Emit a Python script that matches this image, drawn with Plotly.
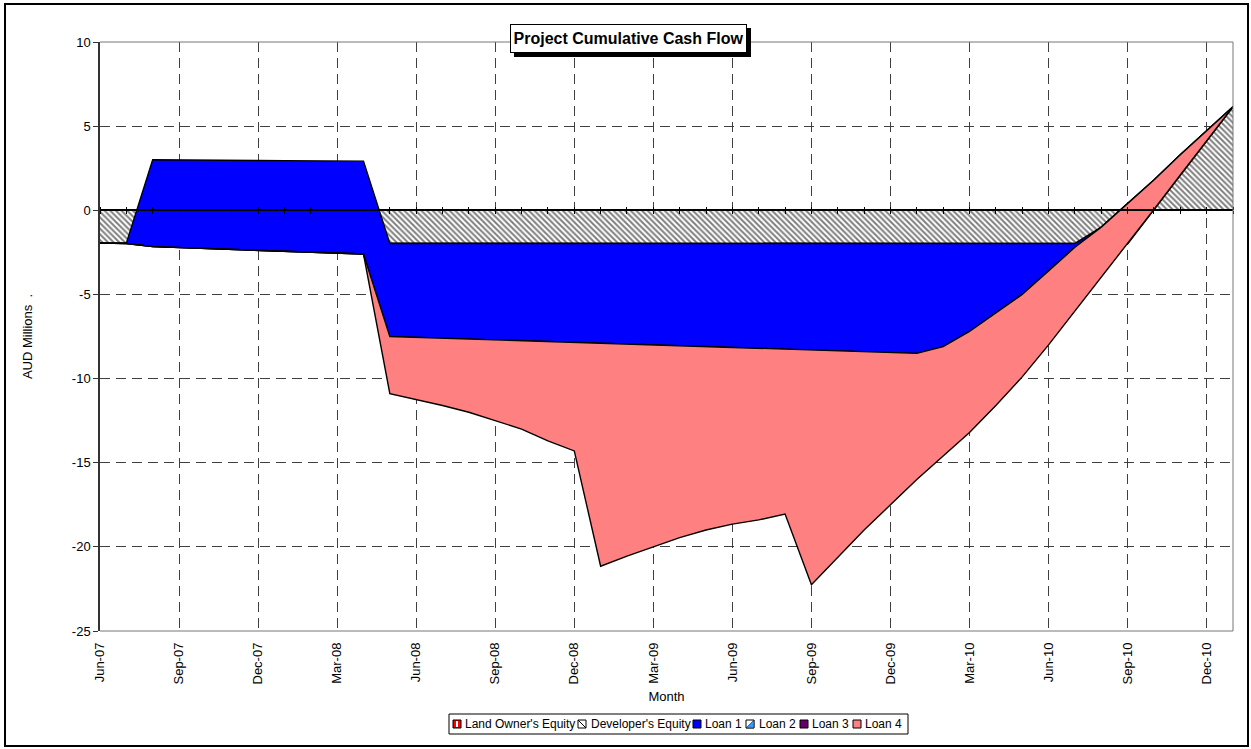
import plotly.graph_objects as go

# ---------------- data ----------------
months = ["Jun-07", "Jul-07", "Aug-07", "Sep-07", "Oct-07", "Nov-07", "Dec-07",
          "Jan-08", "Feb-08", "Mar-08", "Apr-08", "May-08", "Jun-08", "Jul-08", "Aug-08", "Sep-08",
          "Oct-08", "Nov-08", "Dec-08",
          "Jan-09", "Feb-09", "Mar-09", "Apr-09", "May-09", "Jun-09", "Jul-09", "Aug-09", "Sep-09",
          "Oct-09", "Nov-09", "Dec-09",
          "Jan-10", "Feb-10", "Mar-10", "Apr-10", "May-10", "Jun-10", "Jul-10", "Aug-10", "Sep-10",
          "Oct-10", "Nov-10", "Dec-10",
          "Jan-11"]

tick_labels = ["Jun-07", "Sep-07", "Dec-07", "Mar-08", "Jun-08", "Sep-08", "Dec-08", "Mar-09",
               "Jun-09", "Sep-09", "Dec-09", "Mar-10", "Jun-10", "Sep-10", "Dec-10"]

y_ticks = [-25, -20, -15, -10, -5, 0, 5, 10]
y_tick_text = ["-25", "-20", "-15", "-10", "-5", "0", "5", "10"]

# Developer's Equity boundary (hatched area, measured from 0)
developer_equity = [-1.95, -1.95, -1.97, -1.97, -1.97, -1.97, -1.97, -1.97, -1.97, -1.97,
                    -1.97, -1.97, -1.97, -1.97, -1.97, -1.97, -1.97, -1.97, -1.97, -1.97,
                    -1.97, -1.97, -1.97, -1.97, -1.97, -1.97, -1.97, -1.97, -1.97, -1.97,
                    -1.97, -1.97, -1.97, -1.97, -1.97, -1.97, -1.97, -1.97, -1.97, -2.00,
                    0.05, 2.10, 4.10, 6.15]

# Loan 1 (blue) upper boundary
loan1_top = [-1.95, -1.95, 3.00, 3.00, 2.98, 2.97, 2.96, 2.95, 2.94, 2.93,
             2.92, -1.97, -1.97, -1.97, -1.97, -1.97, -1.97, -1.97, -1.97, -1.97,
             -1.97, -1.97, -1.97, -1.97, -1.97, -1.97, -1.97, -1.97, -1.97, -1.97,
             -1.97, -1.97, -1.97, -1.97, -1.97, -1.97, -1.97, -1.97, -1.00, 0.40,
             1.80, 3.30, 4.70, 6.15]

# Loan 1 lower boundary = Loan 4 (salmon) upper boundary
loan1_bottom = [-1.95, -1.97, -2.16, -2.21, -2.26, -2.31, -2.36, -2.41, -2.46, -2.52,
                -2.60, -7.50, -7.55, -7.60, -7.65, -7.70, -7.75, -7.80, -7.85, -7.90,
                -7.95, -8.00, -8.05, -8.10, -8.15, -8.20, -8.25, -8.30, -8.35, -8.40,
                -8.45, -8.50, -8.10, -7.20, -6.10, -5.00, -3.60, -2.20, -1.00, 0.40,
                1.80, 3.30, 4.70, 6.15]

# Cumulative total = Loan 4 lower boundary
cumulative_total = [-1.95, -1.97, -2.16, -2.21, -2.26, -2.31, -2.36, -2.41, -2.46, -2.52,
                    -2.60, -10.90, -11.25, -11.60, -12.00, -12.50, -13.00, -13.70, -14.30, -21.15,
                    -20.55, -20.00, -19.45, -19.00, -18.65, -18.40, -18.05, -22.25, -20.60, -19.00,
                    -17.50, -16.00, -14.60, -13.20, -11.60, -9.90, -8.00, -6.00, -4.00, -2.00,
                    0.05, 2.10, 4.10, 6.15]

legend_labels = ["Land Owner's Equity", "Developer's Equity", "Loan 1", "Loan 2", "Loan 3", "Loan 4"]

# ---------------- styling ----------------
FONT = "Liberation Sans, Arial, sans-serif"
EDGE = dict(color="black", width=1.4)
BLUE = "#0000FF"
SALMON = "#FF8080"

W, H = 1251, 749
PL, PR, PT, PB = 100, 1233, 42, 631


def fx(px):
    return (px - PL) / (PR - PL)


def fy(py):
    return (PB - py) / (PB - PT)


fig = go.Figure()

# Developer's Equity (hatched)
fig.add_trace(go.Scatter(
    x=months, y=developer_equity, mode="lines", line=EDGE,
    fill="tozeroy", fillcolor="white",
    fillpattern=dict(shape="\\", fgcolor="black", bgcolor="white", size=4, solidity=0.5),
    name="Developer's Equity", hoverinfo="skip"))

# Loan 1 (blue)
fig.add_trace(go.Scatter(x=months, y=loan1_bottom, mode="lines", line=EDGE,
                         name="Loan 1 base", hoverinfo="skip"))
fig.add_trace(go.Scatter(x=months, y=loan1_top, mode="lines", line=EDGE,
                         fill="tonexty", fillcolor=BLUE, name="Loan 1", hoverinfo="skip"))

# Loan 4 (salmon)
fig.add_trace(go.Scatter(x=months, y=loan1_bottom, mode="lines", line=EDGE,
                         name="Loan 4 top", hoverinfo="skip"))
fig.add_trace(go.Scatter(x=months, y=cumulative_total, mode="lines", line=EDGE,
                         fill="tonexty", fillcolor=SALMON, name="Loan 4", hoverinfo="skip"))

# helper traces so the crossing category axis (at 0) is drawn above the areas
for ax in ("x2", "x3"):
    fig.add_trace(go.Scatter(x=months, y=cumulative_total, xaxis=ax, mode="lines",
                             line=dict(width=0, color="rgba(0,0,0,0)"),
                             hoverinfo="skip", showlegend=False))

zero_pos = (0 - y_ticks[0]) / (y_ticks[-1] - y_ticks[0])
GRID_DASH = "10px,6px"

cross_axis = dict(overlaying="x", anchor="free", position=zero_pos, type="category",
                  categoryorder="array", categoryarray=months, range=[0, len(months) - 1],
                  tickmode="array", tickvals=months, showticklabels=False,
                  ticks="outside", ticklen=3, tickcolor="black", tickwidth=1,
                  showgrid=False, zeroline=False)

fig.update_layout(
    width=W, height=H,
    margin=dict(l=PL, r=W - PR, t=PT, b=H - PB),
    paper_bgcolor="white", plot_bgcolor="white",
    showlegend=False,
    font=dict(family=FONT, size=13, color="black"),
    xaxis=dict(type="category", categoryorder="array", categoryarray=months,
               range=[0, len(months) - 1], tickmode="array", tickvals=tick_labels,
               ticktext=tick_labels, tickangle=-90, ticks="", ticklabelstandoff=8,
               showgrid=True, gridcolor="#404040", gridwidth=1, griddash=GRID_DASH,
               showline=False, zeroline=False,
               tickfont=dict(size=13),
               title=dict(text="Month", standoff=8, font=dict(size=13))),
    yaxis=dict(range=[y_ticks[0], y_ticks[-1]], tickmode="array", tickvals=y_ticks,
               ticktext=y_tick_text,
               ticks="outside", ticklen=5, tickcolor="#333333", tickwidth=1,
               showline=True, linecolor="#333333", linewidth=1.5,
               showgrid=True, gridcolor="#404040", gridwidth=1, griddash=GRID_DASH,
               zeroline=False, tickfont=dict(size=13),
               title=dict(text="AUD Millions\u00a0\u00a0.", standoff=36, font=dict(size=13))),
    xaxis2=dict(cross_axis, side="bottom", showline=True, linecolor="black", linewidth=1.5),
    xaxis3=dict(cross_axis, side="top", showline=False),
)

shapes = []
# plot frame (top, right, bottom)
shapes.append(dict(type="path", xref="paper", yref="paper",
                   path="M 0,1 L 1,1 L 1,0 L 0,0", line=dict(color="#777777", width=1),
                   layer="above"))
# outer chart border
shapes.append(dict(type="rect", xref="paper", yref="paper",
                   x0=fx(5), x1=fx(1248), y0=fy(746), y1=fy(4),
                   line=dict(color="black", width=2), fillcolor="rgba(0,0,0,0)", layer="above"))
# title shadow
shapes.append(dict(type="rect", xref="paper", yref="paper",
                   x0=fx(514), x1=fx(751), y0=fy(57), y1=fy(28),
                   line=dict(width=0), fillcolor="black", layer="above"))

# legend box
shapes.append(dict(type="rect", xref="paper", yref="paper",
                   x0=fx(449), x1=fx(908), y0=fy(734), y1=fy(714),
                   line=dict(color="black", width=1), fillcolor="white", layer="above"))

legend_icon_x = [453, 578, 693, 746, 800, 853]
legend_text_x = [463, 589, 703, 757, 810, 863]
ICON_T, ICON_B = 720, 728
icon_fills = ["#FF0000", "white", BLUE, "white", "#660066", SALMON]
for ix, fill in zip(legend_icon_x, icon_fills):
    shapes.append(dict(type="rect", xref="paper", yref="paper",
                       x0=fx(ix), x1=fx(ix + 8), y0=fy(ICON_B), y1=fy(ICON_T),
                       line=dict(color="black", width=1), fillcolor=fill, layer="above"))
# icon details
shapes.append(dict(type="rect", xref="paper", yref="paper",
                   x0=fx(legend_icon_x[0] + 3), x1=fx(legend_icon_x[0] + 5),
                   y0=fy(ICON_B - 1), y1=fy(ICON_T + 1),
                   line=dict(width=0), fillcolor="white", layer="above"))
shapes.append(dict(type="line", xref="paper", yref="paper",
                   x0=fx(legend_icon_x[1]), x1=fx(legend_icon_x[1] + 8),
                   y0=fy(ICON_T), y1=fy(ICON_B), line=dict(color="black", width=1), layer="above"))
lx = legend_icon_x[3]
shapes.append(dict(type="path", xref="paper", yref="paper",
                   path=f"M {fx(lx + 8)},{fy(ICON_T)} L {fx(lx + 8)},{fy(ICON_B)} L {fx(lx)},{fy(ICON_B)} Z",
                   line=dict(color="black", width=0.5), fillcolor="#3399FF", layer="above"))

annotations = []
for tx, lab in zip(legend_text_x, legend_labels):
    annotations.append(dict(text=lab, xref="paper", yref="paper", x=fx(tx), y=fy(724),
                            xanchor="left", yanchor="middle", showarrow=False,
                            font=dict(family=FONT, size=12, color="black")))

# chart title box
annotations.append(dict(text="<b>Project Cumulative Cash Flow</b>", xref="paper", yref="paper",
                        x=fx(628.5), y=fy(38.5), xanchor="center", yanchor="middle",
                        showarrow=False, bgcolor="white", bordercolor="black", borderwidth=1,
                        borderpad=0, width=235, height=27,
                        font=dict(family=FONT, size=16, color="black")))

fig.update_layout(shapes=shapes, annotations=annotations)

fig.write_html("out.html", include_plotlyjs=True, config={"displayModeBar": False},
               post_script="document.body.style.margin='0';document.body.style.overflow='hidden';")
